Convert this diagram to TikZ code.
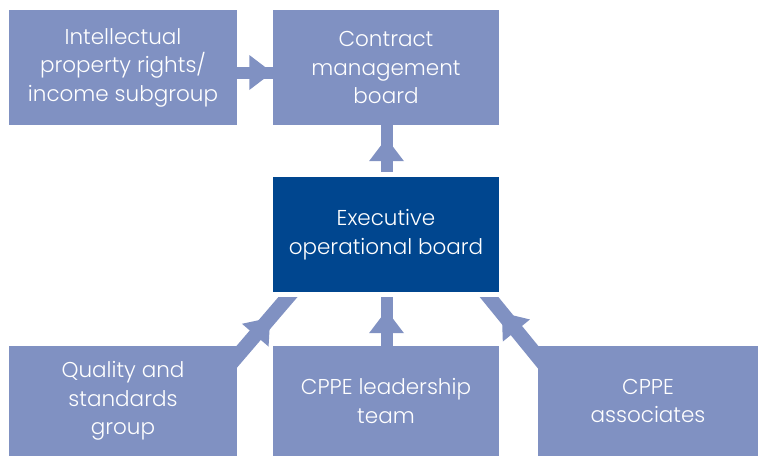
\documentclass[tikz,border=0pt]{standalone}
\usepackage{fontspec}
\setmainfont{Poppins}[UprightFont=* Light]
\usetikzlibrary{calc}
\definecolor{lightbox}{HTML}{8091C2}
\definecolor{darkbox}{HTML}{00468F}
\pgfdeclarelayer{bg}
\pgfsetlayers{bg,main}
\newcommand\bhead[3]{%
  \coordinate (T) at ($(#1)!#3!(#2)$);
  \coordinate (C) at ($(T)!23pt!(#2)$);
  \fill[lightbox] ($(C)!17.5pt!90:(T)$) -- (T) -- ($(C)!17.5pt!-90:(T)$) -- cycle;}
\begin{document}
\begin{tikzpicture}[x=1pt,y=-1pt,
  box/.style={fill=lightbox, text=white, align=center, inner sep=0pt,
    font=\fontsize{21.5}{28.5}\selectfont},
  darkbx/.style={box, fill=darkbox},
  shaft/.style={draw=lightbox, line width=12pt},
  dshaft/.style={draw=lightbox, line width=14.5pt},
]
\useasboundingbox (0,0) rectangle (758,456);
\node[box, minimum width=228pt, minimum height=115pt] (ip) at (123,67.5)
  {Intellectual\\property rights/\\income subgroup};
\node[box, minimum width=226pt, minimum height=115pt] (cmb) at (386,67.5)
  {Contract\\management\\board};
\node[darkbx, minimum width=226pt, minimum height=115pt] (exec) at (386,234.5)
  {Executive\\operational board};
\node[box, minimum width=228pt, minimum height=110pt] (qs) at (123,401)
  {Quality and\\standards\\group};
\node[box, minimum width=226pt, minimum height=110pt] (lead) at (386,401)
  {CPPE leadership\\team};
\node[box, minimum width=220pt, minimum height=110pt] (assoc) at (648,401)
  {CPPE\\associates};
\begin{pgfonlayer}{bg}
  % horizontal arrow
  \coordinate (ha) at ($(ip.east)+(0,5)$);
  \coordinate (hb) at ($(cmb.west)+(0,5)$);
  \draw[shaft] (ha) -- (hb);
  \bhead{hb}{ha}{0.5pt}
  % exec -> cmb
  \coordinate (va) at ($(exec.north)+(0.5,-5)$);
  \coordinate (vb) at ($(cmb.south)+(0.5,0)$);
  \draw[shaft] (va) -- (vb);
  \bhead{vb}{va}{13pt}
  % lead -> exec
  \coordinate (la) at ($(lead.north)+(0.5,0)$);
  \coordinate (lb) at ($(exec.south)+(0.5,5)$);
  \draw[shaft] (la) -- (lb);
  \bhead{lb}{la}{13pt}
  % diagonals
  \coordinate (d1a) at ($(qs.north east)+(-11.6,24)$);
  \coordinate (d1b) at ($(exec.south west)+(15,5)$);
  \coordinate (d2a) at ($(assoc.north west)+(10.6,24)$);
  \coordinate (d2b) at ($(exec.south east)+(-10,5)$);
  \begin{scope}
    \clip ($(exec.south west)+(-100,5)$) rectangle (assoc.south east);
    \draw[dshaft] (d1a) -- ($(d1a)!1.2!(d1b)$);
    \draw[dshaft] (d2a) -- ($(d2a)!1.2!(d2b)$);
  \end{scope}
  \bhead{d1b}{d1a}{27pt}
  \bhead{d2b}{d2a}{20pt}
\end{pgfonlayer}
\end{tikzpicture}
\end{document}
